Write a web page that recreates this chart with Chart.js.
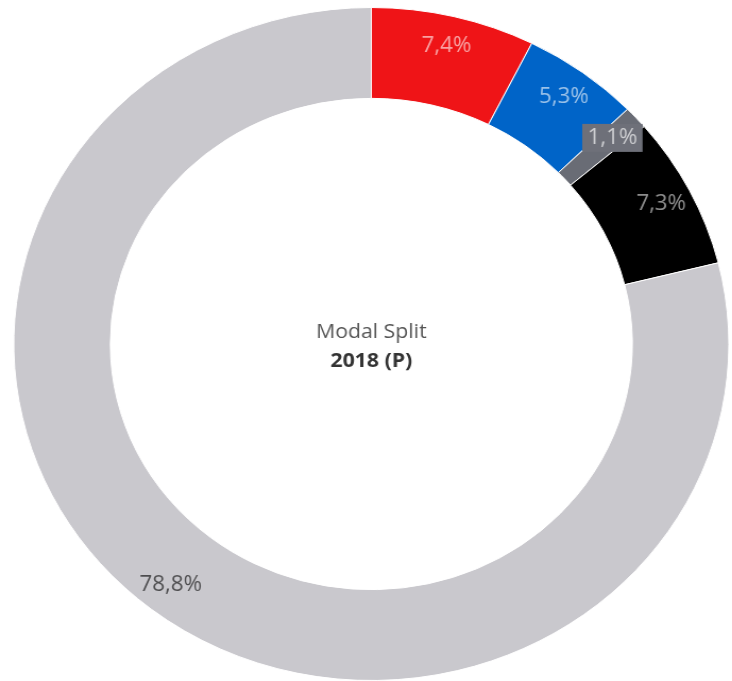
<!DOCTYPE html>
<html>
<head>
<meta charset="utf-8">
<script src="https://cdn.jsdelivr.net/npm/chart.js@4/dist/chart.umd.min.js"></script>
<style>
  html, body { margin: 0; padding: 0; background: #fff; overflow: hidden; }
  /* the reference ring is slightly wider than tall */
  #wrap { width: 689px; height: 681px; transform: scaleX(1.0625); transform-origin: 0 0; }
</style>
</head>
<body>
<div id="wrap"><canvas id="modalChart"></canvas></div>
<script>
var categories = ['Rot', 'Blau', 'Grau', 'Schwarz', 'Hellgrau'];
var shares = [7.4, 5.3, 1.1, 7.3, 78.8];
var shareLabels = ['7,4%', '5,3%', '1,1%', '7,3%', '78,8%'];
var colors = ['#ef1417', '#0064c8', '#696c75', '#000000', '#c9c8cd'];
var labelColors = ['rgba(255,255,255,0.6)', 'rgba(255,255,255,0.6)', 'rgba(255,255,255,0.65)', 'rgba(255,255,255,0.55)', 'rgba(0,0,0,0.62)'];

var ringLabels = {
    id: 'ringLabels',
    afterDatasetsDraw: function(chart) {
        var ctx = chart.ctx;
        var arcs = chart.getDatasetMeta(0).data;
        ctx.save();
        ctx.font = '21px "Open Sans"';
        ctx.textAlign = 'center';
        ctx.textBaseline = 'middle';
        arcs.forEach(function(arc, i) {
            var p = arc.getProps(['x', 'y', 'startAngle', 'endAngle', 'innerRadius', 'outerRadius'], true);
            var mid = (p.startAngle + p.endAngle) / 2;
            var r = p.innerRadius + 0.67 * (p.outerRadius - p.innerRadius);
            var px = p.x + Math.cos(mid) * r;
            var py = p.y + Math.sin(mid) * r;
            if (i === 2) {
                // small slice gets a box behind its label
                var w = ctx.measureText(shareLabels[i]).width + 10;
                ctx.fillStyle = '#6e7079';
                ctx.fillRect(px - w / 2, py - 14, w, 28);
            }
            ctx.fillStyle = labelColors[i];
            ctx.fillText(shareLabels[i], px, py);
        });
        ctx.restore();
    },
    afterDraw: function(chart) {
        var ctx = chart.ctx;
        var arc = chart.getDatasetMeta(0).data[0];
        ctx.save();
        ctx.textAlign = 'center';
        ctx.textBaseline = 'middle';
        ctx.fillStyle = '#555555';
        ctx.font = '20px "Open Sans"';
        ctx.fillText('Modal Split', arc.x, arc.y - 12);
        ctx.fillStyle = '#333333';
        ctx.font = 'bold 20px "Open Sans"';
        ctx.fillText('2018 (P)', arc.x, arc.y + 17);
        ctx.restore();
    }
};

var ctx = document.getElementById('modalChart').getContext('2d');
var modalChart = new Chart(ctx, {
    type: 'doughnut',
    data: {
        labels: categories,
        datasets: [{
            data: shares,
            backgroundColor: colors,
            borderColor: '#ffffff',
            borderWidth: 1
        }]
    },
    options: {
        responsive: true,
        maintainAspectRatio: false,
        animation: false,
        cutout: '73%',
        layout: { padding: { left: 10, top: 7, right: 0, bottom: 0 } },
        plugins: {
            legend: { display: false },
            tooltip: { enabled: false }
        }
    },
    plugins: [ringLabels]
});
</script>
</body>
</html>
